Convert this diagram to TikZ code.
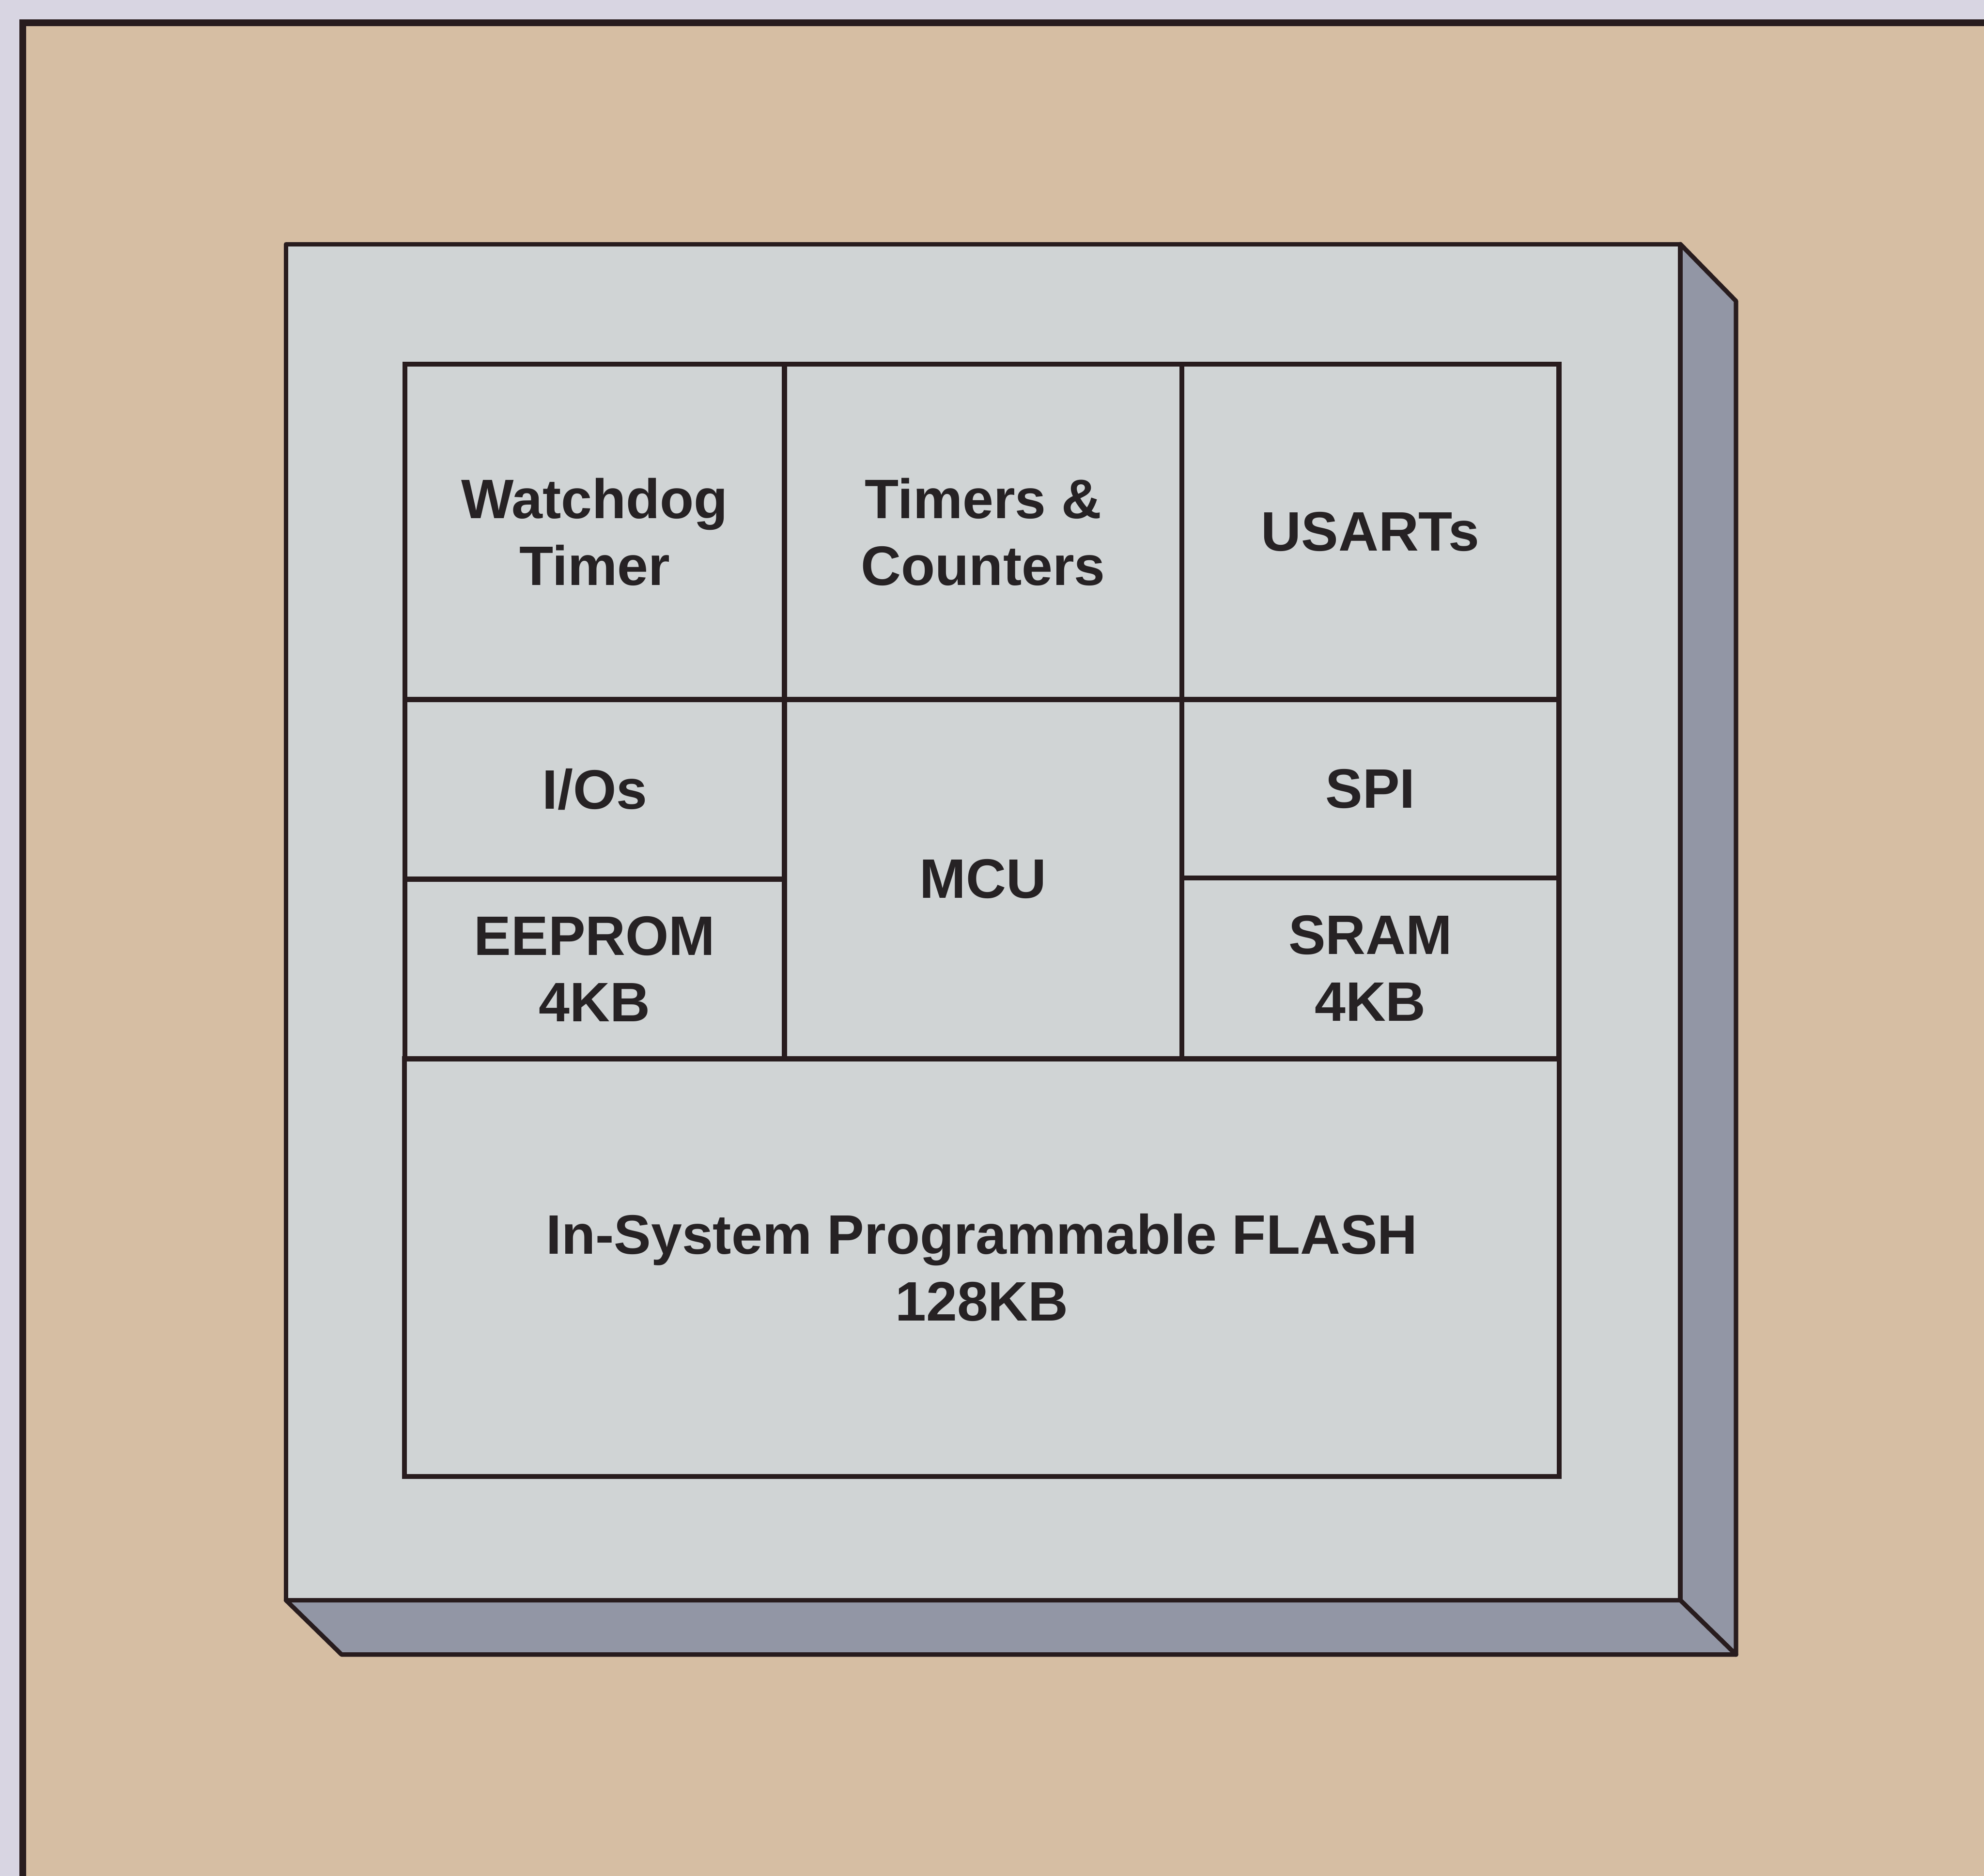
\documentclass[tikz,border=0pt]{standalone}
\usepackage{fontspec}
\setmainfont{Liberation Sans}
\definecolor{bgout}{RGB}{216,213,226}
\definecolor{paper}{RGB}{214,190,163}
\definecolor{face}{RGB}{208,212,213}
\definecolor{side}{RGB}{146,150,165}
\definecolor{ink}{RGB}{40,28,30}
\definecolor{txt}{RGB}{38,34,36}
\tikzset{
  cell/.style={draw=ink, line width=1.1pt, rectangle, inner sep=0pt,
    align=center, text=txt,
    font=\fontsize{12.5pt}{15pt}\selectfont\bfseries},
  chipline/.style={draw=ink, line width=1pt, line join=round},
}
\begin{document}
\begin{tikzpicture}[x=0.01cm, y=-0.01cm]
  \useasboundingbox (0,0) rectangle (1568,1483);
  % backdrop and framed panel
  \fill[bgout] (0,0) rectangle (1568,1483);
  \fill[paper] (18,18) rectangle (1568,1483);
  \draw[ink, line width=1.6pt] (18,1490) -- (18,18) -- (1575,18);

  % chip body: side and bottom faces, then front face
  \filldraw[chipline, fill=side] (1328,193) -- (1372,238) -- (1372,1308) -- (1328,1265) -- cycle;
  \filldraw[chipline, fill=side] (226,1265) -- (1328,1265) -- (1372,1308) -- (270,1308) -- cycle;
  \filldraw[chipline, fill=face] (226,193) rectangle (1328,1265);

  % functional blocks
  \node[cell, minimum width=3cm, minimum height=2.65cm] (wdt) at (470,420.5) {Watchdog\\Timer};
  \node[cell, minimum width=3.14cm, minimum height=2.65cm] (tmr) at (777,420.5) {Timers \&\\Counters};
  \node[cell, minimum width=2.98cm, minimum height=2.65cm] (usart) at (1083,420.5) {USARTs};
  \node[cell, minimum width=3cm, minimum height=1.42cm] (io) at (470,624) {I/Os};
  \node[cell, minimum width=3cm, minimum height=1.42cm] (eep) at (470,766) {EEPROM\\4KB};
  \node[cell, minimum width=3.14cm, minimum height=2.84cm] (mcu) at (777,695) {MCU};
  \node[cell, minimum width=2.98cm, minimum height=1.41cm] (spi) at (1083,623.5) {SPI};
  \node[cell, minimum width=2.98cm, minimum height=1.43cm] (sram) at (1083,765.5) {SRAM\\4KB};
  \node[cell, minimum width=9.12cm, minimum height=3.3cm] (flash) at (776,1002) {In-System Programmable FLASH\\128KB};
\end{tikzpicture}
\end{document}
